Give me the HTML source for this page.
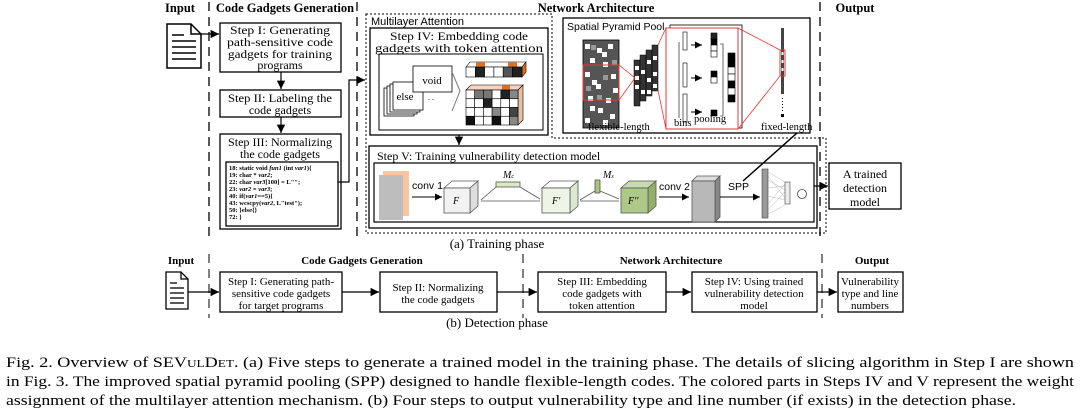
<!DOCTYPE html>
<html><head><meta charset="utf-8"><style>
html,body{margin:0;padding:0;background:#fff;}
svg{display:block;}
.s{font-family:"Liberation Serif",serif;}
.a{font-family:"Liberation Sans",sans-serif;}
</style></head><body>
<svg width="1080" height="415" viewBox="0 0 1080 415" xmlns="http://www.w3.org/2000/svg">
<defs>
<marker id="ar" viewBox="0 0 10 10" refX="10" refY="5" markerWidth="7" markerHeight="7" orient="auto"><path d="M0,0L10,5L0,10z" fill="#000"/></marker>
</defs>
<g class="s" font-weight="bold" font-size="12.5" text-anchor="middle">
<text x="180" y="12">Input</text>
<text x="285" y="12">Code Gadgets Generation</text>
<text x="596" y="12">Network Architecture</text>
<text x="855" y="12">Output</text>
</g>
<g stroke="#000" stroke-width="1.3" stroke-dasharray="9,6" fill="none">
<line x1="209" y1="2" x2="209" y2="236"/>
<line x1="357" y1="2" x2="357" y2="236"/>
<line x1="820" y1="2" x2="820" y2="236"/>
</g>
<g fill="none" stroke="#000" stroke-width="1.5">
<path d="M167,24 H191 L201,34 V68 H167 Z"/><path d="M191,24 V34 H201"/>
<line x1="172" y1="35" x2="184" y2="35"/><line x1="172" y1="41" x2="196" y2="41"/><line x1="172" y1="47" x2="196" y2="47"/><line x1="172" y1="53" x2="196" y2="53"/><line x1="172" y1="59" x2="196" y2="59"/>
</g>
<line x1="201" y1="34" x2="219" y2="34" stroke="#000" stroke-width="1.2" marker-end="url(#ar)"/>
<g fill="#fff" stroke="#000" stroke-width="1.3">
<rect x="220" y="23" width="121" height="49"/>
<rect x="220" y="90" width="121" height="27"/>
<rect x="220" y="134" width="121" height="95"/>
<rect x="226" y="162" width="112" height="64"/>
</g>
<g class="s" font-size="12" text-anchor="middle">
<text x="280" y="34" textLength="100" lengthAdjust="spacingAndGlyphs">Step I: Generating</text><text x="280" y="46" textLength="106" lengthAdjust="spacingAndGlyphs">path-sensitive code</text><text x="280" y="58" textLength="104" lengthAdjust="spacingAndGlyphs">gadgets  for training</text><text x="280" y="69">programs</text>
<text x="280" y="102" textLength="104" lengthAdjust="spacingAndGlyphs">Step II: Labeling  the</text><text x="280" y="114">code  gadgets</text>
<text x="280" y="146" textLength="104" lengthAdjust="spacingAndGlyphs">Step III: Normalizing</text><text x="280" y="158">the  code  gadgets</text>
</g>
<line x1="281" y1="72" x2="281" y2="89" stroke="#000" stroke-width="1.2" marker-end="url(#ar)"/>
<line x1="281" y1="117" x2="281" y2="133" stroke="#000" stroke-width="1.2" marker-end="url(#ar)"/>
<g class="s" font-size="6.5" font-weight="bold">
<text x="229" y="170">18:  static void <tspan font-style="italic">fun1</tspan> (int <tspan font-style="italic">var1</tspan>){</text>
<text x="229" y="177">19:      char * <tspan font-style="italic">var2</tspan>;</text>
<text x="229" y="184">22:      char <tspan font-style="italic">var3</tspan>[100] = L"";</text>
<text x="229" y="191">23:      <tspan font-style="italic">var2</tspan> = <tspan font-style="italic">var3</tspan>;</text>
<text x="229" y="198">40:      if(<tspan font-style="italic">var1</tspan>==5){</text>
<text x="229" y="205">43:          wcscpy(<tspan font-style="italic">var2</tspan>, L"test");</text>
<text x="229" y="212">50:      }else{}</text>
<text x="229" y="219">72:  }</text>
</g>
<polyline points="338,182 349,182 349,80 365,80" fill="none" stroke="#000" stroke-width="1.2" marker-end="url(#ar)"/>
<path d="M366,14 H552 V138 H826 V233 H366 Z" fill="none" stroke="#000" stroke-width="1" stroke-dasharray="2,2"/>
<text class="a" x="371" y="25" font-size="11">Multilayer Attention</text>
<rect x="370" y="28" width="178" height="107" fill="none" stroke="#000" stroke-width="1.3"/>
<g class="s" font-size="12" text-anchor="middle"><text x="459" y="40" textLength="138" lengthAdjust="spacingAndGlyphs">Step IV: Embedding code</text><text x="459" y="52" textLength="168" lengthAdjust="spacingAndGlyphs">gadgets with token attention</text></g>
<rect x="379" y="54" width="164" height="76" fill="none" stroke="#000" stroke-width="1"/>
<g fill="#fff" stroke="#000" stroke-width="0.8">
<rect x="384" y="88" width="30" height="28"/><rect x="387" y="86" width="30" height="28"/><rect x="390" y="84" width="30" height="28"/><rect x="393" y="82" width="30" height="28"/>
<rect x="413" y="66" width="39" height="26"/>
</g>
<text class="s" x="432" y="84" font-size="11" text-anchor="middle">void</text>
<text class="s" x="405" y="100" font-size="11" text-anchor="middle">else</text>
<text x="428" y="100" font-size="8">. .</text>
<path d="M452,72 L460,91 L452,111" fill="none" stroke="#777" stroke-width="1"/>
<g stroke="#000" stroke-width="0.6">
<path d="M466,67 L470,62 L526,62 L522,67 Z" fill="#fff"/>
<rect x="476" y="62.5" width="9" height="4" fill="#e07020" stroke="none"/><rect x="508" y="62.5" width="9" height="4" fill="#e07020" stroke="none"/>
<path d="M522,67 L526,62 L526,72 L522,77 Z" fill="#e07020"/>
<rect x="466" y="67" width="9.3" height="10" fill="#fff"/><rect x="475.3" y="67" width="9.3" height="10" fill="#222"/><rect x="484.6" y="67" width="9.3" height="10" fill="#fff"/><rect x="493.9" y="67" width="9.3" height="10" fill="#fff"/><rect x="503.2" y="67" width="9.3" height="10" fill="#555"/><rect x="512.5" y="67" width="9.5" height="10" fill="#222"/>
</g>
<g stroke="#000" stroke-width="0.6">
<path d="M466,90 L471,85 L523,85 L518,90 Z" fill="#f5d5c0"/>
<rect x="502" y="85.5" width="8" height="4" fill="#e07020" stroke="none"/>
<path d="M518,90 L523,85 L523,120 L518,125 Z" fill="#e8c0a0"/>
</g>
<g stroke="#000" stroke-width="0.6">
<rect x="466" y="90" width="8.7" height="8.75" fill="#fff"/><rect x="474.7" y="90" width="8.7" height="8.75" fill="#777"/><rect x="483.4" y="90" width="8.7" height="8.75" fill="#777"/><rect x="492.1" y="90" width="8.7" height="8.75" fill="#fff"/><rect x="500.8" y="90" width="8.7" height="8.75" fill="#222"/><rect x="509.5" y="90" width="8.5" height="8.75" fill="#888"/>
<rect x="466" y="98.75" width="8.7" height="8.75" fill="#fff"/><rect x="474.7" y="98.75" width="8.7" height="8.75" fill="#fff"/><rect x="483.4" y="98.75" width="8.7" height="8.75" fill="#222"/><rect x="492.1" y="98.75" width="8.7" height="8.75" fill="#fff"/><rect x="500.8" y="98.75" width="8.7" height="8.75" fill="#fff"/><rect x="509.5" y="98.75" width="8.5" height="8.75" fill="#fff"/>
<rect x="466" y="107.5" width="8.7" height="8.75" fill="#fff"/><rect x="474.7" y="107.5" width="8.7" height="8.75" fill="#fff"/><rect x="483.4" y="107.5" width="8.7" height="8.75" fill="#fff"/><rect x="492.1" y="107.5" width="8.7" height="8.75" fill="#888"/><rect x="500.8" y="107.5" width="8.7" height="8.75" fill="#fff"/><rect x="509.5" y="107.5" width="8.5" height="8.75" fill="#444"/>
<rect x="466" y="116.25" width="8.7" height="8.75" fill="#111"/><rect x="474.7" y="116.25" width="8.7" height="8.75" fill="#fff"/><rect x="483.4" y="116.25" width="8.7" height="8.75" fill="#fff"/><rect x="492.1" y="116.25" width="8.7" height="8.75" fill="#111"/><rect x="500.8" y="116.25" width="8.7" height="8.75" fill="#fff"/><rect x="509.5" y="116.25" width="8.5" height="8.75" fill="#888"/>
</g>
<line x1="459" y1="135" x2="459" y2="145" stroke="#000" stroke-width="1.2" marker-end="url(#ar)"/>
<rect x="563" y="18" width="247" height="115" fill="none" stroke="#000" stroke-width="1.3"/>
<text class="a" x="567" y="30" font-size="10.5">Spatial Pyramid Pool</text>
<rect x="583" y="40" width="36" height="88" fill="#555"/>
<g fill="#fff">
<rect x="585" y="44" width="5" height="5"/><rect x="597" y="48" width="5" height="5"/><rect x="608" y="44" width="5" height="5"/><rect x="590" y="58" width="5" height="5"/><rect x="603" y="62" width="5" height="5"/><rect x="585" y="72" width="5" height="5"/><rect x="611" y="74" width="5" height="5"/><rect x="596" y="84" width="5" height="5"/><rect x="588" y="96" width="5" height="5"/><rect x="606" y="98" width="5" height="5"/><rect x="598" y="108" width="5" height="5"/><rect x="585" y="118" width="5" height="5"/><rect x="610" y="114" width="5" height="5"/><rect x="592" y="80" width="5" height="5"/><rect x="602" y="52" width="5" height="5"/><rect x="613" y="88" width="5" height="5"/><rect x="590" y="106" width="5" height="5"/><rect x="603" y="120" width="5" height="5"/>
</g>
<g fill="#999"><rect x="591" y="45" width="5" height="5"/><rect x="603" y="75" width="5" height="5"/><rect x="586" y="86" width="5" height="5"/><rect x="612" y="60" width="5" height="5"/><rect x="597" y="95" width="5" height="5"/></g>
<rect x="583" y="40" width="36" height="88" fill="none" stroke="#000" stroke-width="0.8"/>
<rect x="583" y="65" width="36" height="35" fill="none" stroke="#e33" stroke-width="1"/>
<g fill="#333" stroke="#000" stroke-width="0.5">
<rect x="634" y="60" width="6" height="46"/><rect x="640" y="55" width="6" height="46"/><rect x="646" y="50" width="6" height="46"/><rect x="652" y="45" width="6" height="46"/>
</g>
<g fill="#fff"><rect x="635" y="66" width="4" height="4"/><rect x="641" y="70" width="4" height="4"/><rect x="647" y="60" width="4" height="4"/><rect x="653" y="56" width="4" height="4"/><rect x="635" y="85" width="4" height="4"/><rect x="647" y="78" width="4" height="4"/><rect x="653" y="72" width="4" height="4"/><rect x="641" y="90" width="4" height="4"/><rect x="635" y="76" width="4" height="4"/><rect x="653" y="84" width="4" height="4"/><rect x="647" y="90" width="4" height="4"/></g>
<polyline points="619,65 635,78 619,100" fill="none" stroke="#e33" stroke-width="0.8"/>
<rect x="670" y="25" width="72" height="103" fill="none" stroke="#000" stroke-width="0.8"/>
<rect x="666" y="28" width="72" height="101" fill="#fff" stroke="#e33" stroke-width="1"/>
<polyline points="658,45 666,28" stroke="#e33" fill="none" stroke-width="0.8"/>
<polyline points="658,90 666,129" stroke="#e33" fill="none" stroke-width="0.8"/>
<g fill="#fff" stroke="#000" stroke-width="0.6"><rect x="683" y="32" width="4" height="18"/><rect x="683" y="63" width="4" height="24"/><rect x="683" y="94" width="4" height="28"/></g>
<path d="M679,42 V118" stroke="#000" fill="none" stroke-width="0.6"/>
<g stroke="#000" stroke-width="1"><line x1="691" y1="45" x2="702" y2="45" marker-end="url(#ar)"/><line x1="691" y1="78" x2="702" y2="78" marker-end="url(#ar)"/><line x1="691" y1="112" x2="702" y2="112" marker-end="url(#ar)"/></g>
<g stroke="#000" stroke-width="0.6"><rect x="711" y="33" width="6" height="6" fill="#222"/><rect x="711" y="39" width="6" height="6" fill="#000"/><rect x="711" y="45" width="6" height="6" fill="#fff"/><rect x="711" y="51" width="6" height="6" fill="#fff"/><rect x="711" y="71" width="6" height="6" fill="#000"/><rect x="711" y="77" width="6" height="6" fill="#fff"/><rect x="711" y="110" width="6" height="6" fill="#000"/>
<rect x="728" y="53" width="7" height="7" fill="#000"/><rect x="728" y="60" width="7" height="7" fill="#000"/><rect x="728" y="67" width="7" height="7" fill="#fff"/><rect x="728" y="74" width="7" height="7" fill="#fff"/><rect x="728" y="81" width="7" height="7" fill="#000"/><rect x="728" y="88" width="7" height="7" fill="#fff"/><rect x="728" y="95" width="7" height="7" fill="#000"/></g>
<path d="M720,44 H723 V116 H720" fill="none" stroke="#000" stroke-width="0.6"/>
<g class="s" font-size="10.5"><text x="674" y="126">bins</text><text x="694" y="122">pooling</text><text x="588" y="130">flexible-length</text><text x="761" y="130">fixed-length</text></g>
<rect x="781" y="28" width="3" height="66" fill="#444"/>
<g fill="#fff"><rect x="781.5" y="52" width="2" height="3"/><rect x="781.5" y="60" width="2" height="3"/><rect x="781.5" y="68" width="2" height="3"/></g>
<rect x="780" y="50" width="5" height="26" fill="none" stroke="#e33" stroke-width="1"/>
<line x1="782.5" y1="98" x2="782.5" y2="112" stroke="#000" stroke-dasharray="1,2"/>
<rect x="781" y="114" width="3" height="3" fill="#000"/>
<line x1="738" y1="28" x2="780" y2="50" stroke="#e33" stroke-width="0.8"/>
<line x1="738" y1="129" x2="780" y2="76" stroke="#e33" stroke-width="0.8"/>
<rect x="369" y="146" width="448" height="82" fill="none" stroke="#000" stroke-width="1.3"/>
<text class="s" x="377" y="160" font-size="12">Step V: Training vulnerability detection model</text>
<rect x="374" y="163" width="440" height="59" fill="none" stroke="#000" stroke-width="1.2"/>
<rect x="383" y="171" width="26" height="45" fill="#f9c6a2"/>
<rect x="379" y="175" width="24" height="45" fill="#bdbdbd"/>
<text class="a" x="412" y="189" font-size="10.5">conv 1</text>
<line x1="412" y1="197" x2="442" y2="197" stroke="#000" stroke-width="1" marker-end="url(#ar)"/>
<g stroke="#555" stroke-width="0.8">
<path d="M444,188 L452,181 L478,181 L470,188 Z" fill="#fff"/><path d="M470,188 L478,181 L478,206 L470,213 Z" fill="#ddd"/><rect x="444" y="188" width="26" height="25" fill="#f2f2f2"/>
<path d="M542,188 L550,181 L578,181 L570,188 Z" fill="#fff"/><path d="M570,188 L578,181 L578,206 L570,213 Z" fill="#dce8cf"/><rect x="542" y="188" width="28" height="25" fill="#eef4e6"/>
<path d="M621,188 L629,181 L656,181 L648,188 Z" fill="#c7dcae"/><path d="M648,188 L656,181 L656,206 L648,213 Z" fill="#93b06b"/><rect x="621" y="188" width="27" height="25" fill="#adc888"/>
<path d="M692,181 L697,176 L720,176 L715,181 Z" fill="#ddd"/><path d="M715,181 L720,176 L720,217 L715,222 Z" fill="#888"/><rect x="692" y="181" width="23" height="41" fill="#b8b8b8"/>
<rect x="496" y="182" width="24" height="5" fill="#dce8c4"/>
<rect x="595" y="180" width="5" height="13" fill="#a8c480"/>
<line x1="481" y1="200" x2="496" y2="187"/><line x1="481" y1="201" x2="540" y2="201"/><line x1="520" y1="187" x2="540" y2="199"/>
<line x1="580" y1="200" x2="595" y2="191"/><line x1="580" y1="201" x2="619" y2="201"/><line x1="600" y1="191" x2="619" y2="199"/>
</g>
<g class="s" font-style="italic" font-size="10"><text x="453" y="204">F</text><text x="552" y="204">F′</text><text x="628" y="204">F′′</text><text x="503" y="178">M<tspan font-size="6">c</tspan></text><text x="603" y="178">M<tspan font-size="6">s</tspan></text></g>
<text class="a" x="659" y="190" font-size="10.5">conv 2</text>
<line x1="659" y1="197" x2="689" y2="197" stroke="#000" stroke-width="1" marker-end="url(#ar)"/>
<text class="a" x="728" y="190" font-size="10.5">SPP</text>
<line x1="720" y1="197" x2="760" y2="197" stroke="#000" stroke-width="1" marker-end="url(#ar)"/>
<line x1="743" y1="181" x2="797" y2="133" stroke="#000" stroke-width="1.5"/>
<rect x="762" y="169" width="6" height="49" fill="#999" stroke="#444" stroke-width="0.6"/>
<g stroke="#888" stroke-width="0.3"><path d="M768,172 L785,182 M768,180 L785,190 M768,188 L785,186 M768,196 L785,200 M768,204 L785,184 M768,214 L785,205 M768,176 L785,198 M768,210 L785,192"/></g>
<rect x="785" y="182" width="5" height="22" fill="#eee" stroke="#444" stroke-width="0.6"/>
<circle cx="802" cy="194" r="4.5" fill="#fff" stroke="#444" stroke-width="0.8"/>
<line x1="814" y1="186" x2="828" y2="186" stroke="#000" stroke-width="1.2" marker-end="url(#ar)"/>
<rect x="829" y="163" width="72" height="46" fill="#fff" stroke="#000" stroke-width="1.3"/>
<g class="s" font-size="12" text-anchor="middle"><text x="865" y="178">A trained</text><text x="865" y="192">detection</text><text x="865" y="206">model</text></g>
<text class="s" x="497" y="248" font-size="13" text-anchor="middle">(a) Training phase</text>
<g class="s" font-weight="bold" font-size="11" text-anchor="middle">
<text x="181" y="264">Input</text><text x="362" y="264">Code Gadgets Generation</text><text x="671" y="264">Network Architecture</text><text x="872" y="264">Output</text>
</g>
<g stroke="#000" stroke-width="1" stroke-dasharray="9,6"><line x1="209" y1="254" x2="209" y2="318"/><line x1="523" y1="254" x2="523" y2="318"/><line x1="822" y1="254" x2="822" y2="318"/></g>
<g fill="none" stroke="#000" stroke-width="1.3">
<path d="M166,272 H181 L188,279 V309 H166 Z"/><path d="M181,272 V279 H188"/>
<line x1="170" y1="283" x2="177" y2="283"/><line x1="170" y1="288" x2="184" y2="288"/><line x1="170" y1="293" x2="184" y2="293"/><line x1="170" y1="298" x2="184" y2="298"/><line x1="170" y1="303" x2="184" y2="303"/>
</g>
<g fill="#fff" stroke="#000" stroke-width="1.3">
<rect x="220" y="272" width="122" height="40"/><rect x="380" y="272" width="117" height="40"/><rect x="538" y="272" width="128" height="40"/><rect x="692" y="272" width="125" height="40"/><rect x="838" y="272" width="65" height="40"/>
</g>
<g stroke="#000" stroke-width="1.2"><line x1="188" y1="292" x2="219" y2="292" marker-end="url(#ar)"/><line x1="342" y1="292" x2="379" y2="292" marker-end="url(#ar)"/><line x1="497" y1="292" x2="537" y2="292" marker-end="url(#ar)"/><line x1="666" y1="292" x2="691" y2="292" marker-end="url(#ar)"/><line x1="817" y1="292" x2="837" y2="292" marker-end="url(#ar)"/></g>
<g class="s" font-size="11" text-anchor="middle">
<text x="281" y="285">Step I: Generating  path-</text><text x="281" y="297">sensitive code  gadgets</text><text x="281" y="309">for target programs</text>
<text x="438" y="291">Step II: Normalizing</text><text x="438" y="303">the  code  gadgets</text>
<text x="602" y="285">Step III: Embedding</text><text x="602" y="297">code gadgets with</text><text x="602" y="309">token attention</text>
<text x="754" y="285">Step IV: Using  trained</text><text x="754" y="297">vulnerability  detection</text><text x="754" y="309">model</text>
<text x="870" y="285">Vulnerability</text><text x="870" y="297">type and line</text><text x="870" y="309">numbers</text>
</g>
<text class="s" x="497" y="327" font-size="13" text-anchor="middle">(b) Detection phase</text>
<g class="s" font-size="15">
<text x="6" y="367" textLength="1068" lengthAdjust="spacingAndGlyphs">Fig. 2.  Overview of SEV<tspan font-size="11">UL</tspan>D<tspan font-size="11">ET</tspan>. (a) Five steps to generate a trained model in the training phase. The details of slicing algorithm in Step I are shown</text>
<text x="6" y="386" textLength="1068" lengthAdjust="spacingAndGlyphs">in Fig. 3. The improved spatial pyramid pooling (SPP) designed to handle flexible-length codes. The colored parts in Steps IV and V represent the weight</text>
<text x="6" y="405" textLength="1010" lengthAdjust="spacingAndGlyphs">assignment of the multilayer attention mechanism. (b) Four steps to output vulnerability type and line number (if exists) in the detection phase.</text>
</g>
</svg>
</body></html>
